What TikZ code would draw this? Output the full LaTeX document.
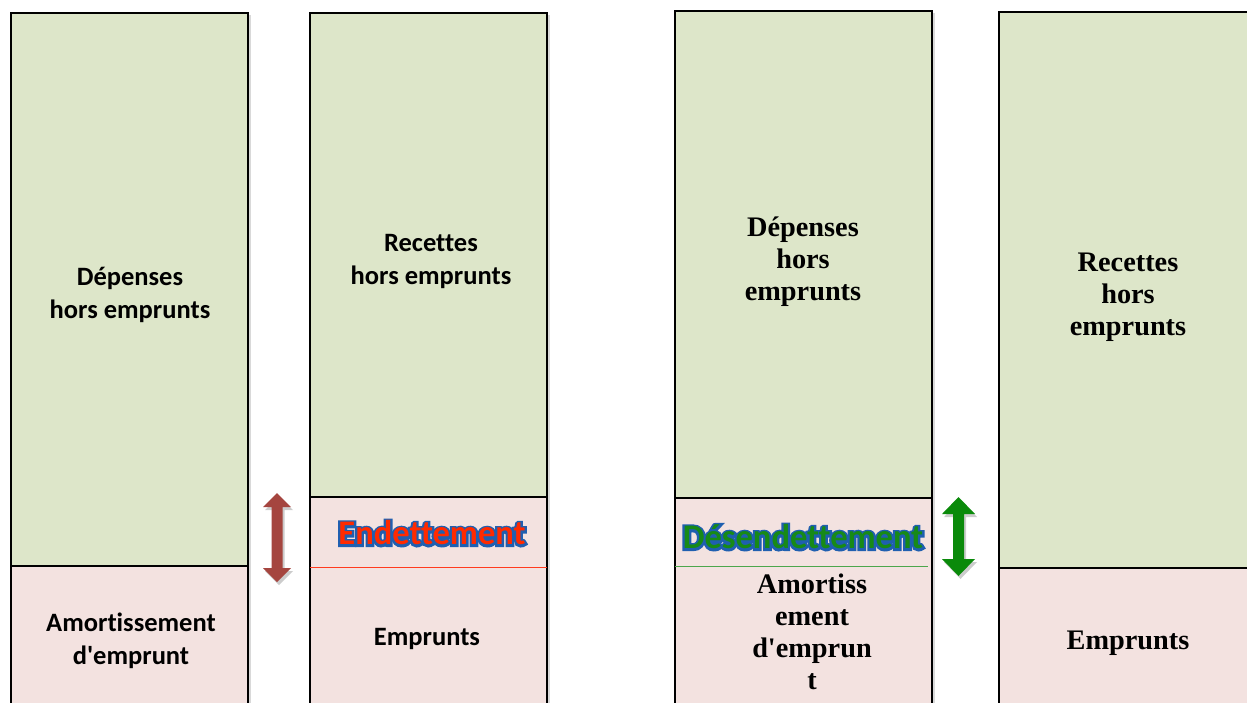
\documentclass[tikz,border=0pt]{standalone}
\usepackage{fontspec}
\setmainfont{Carlito}[Ligatures=NoCommon]
\newfontfamily\serifb{Liberation Serif}[Ligatures=NoCommon]
\definecolor{boxgreen}{HTML}{DDE6C9}
\definecolor{boxpink}{HTML}{F3E2E0}
\definecolor{arrowred}{HTML}{A5453F}
\definecolor{arrowgreen}{HTML}{0A8A0A}
\definecolor{glowblue}{HTML}{1F5FB0}
\definecolor{endred}{HTML}{FF2A00}
\definecolor{desgreen}{HTML}{178A17}
\definecolor{linered}{HTML}{FF3B1F}
\definecolor{linegreen}{HTML}{4CA64C}
\tikzset{
  greenbox/.style={draw=black, line width=1.5pt, fill=boxgreen},
  pinkbox/.style={draw=black, line width=1.5pt, fill=boxpink},
  boxshadow/.style={fill=black, opacity=0.15},
  sanslabel/.style={align=center, font=\bfseries\fontsize{26.5}{33}\selectfont, inner sep=0pt},
  seriflabel/.style={align=center, font=\serifb\bfseries\fontsize{28.3}{32}\selectfont, inner sep=0pt},
  bigword/.style={inner sep=0pt, font=\bfseries\fontsize{34.5}{36}\selectfont},
  glowword/.style={inner sep=0pt, text=glowblue, font=\bfseries\fontsize{34.5}{36}\selectfont\addfontfeature{FakeBold=13}},
}
\begin{document}
\begin{tikzpicture}[x=1pt,y=-1pt]
\useasboundingbox (0,0) rectangle (1247,702);
\clip (0,0) rectangle (1247,702);
% shadows
\fill[boxshadow] (13,15) rectangle (250.5,712);
\fill[boxshadow] (312,15) rectangle (549.5,712);
\fill[boxshadow] (677,13) rectangle (934.5,712);
\fill[boxshadow] (1001,14) rectangle (1260,712);
% column 1
\draw[greenbox] (11,13) rectangle (248,566);
\draw[pinkbox] (11,566) rectangle (248,712);
% column 2
\draw[greenbox] (310,13) rectangle (547,497);
\draw[pinkbox] (310,497) rectangle (547,712);
\draw[linered, line width=1pt] (310,567) -- (547,567);
% column 3
\draw[greenbox] (675,11) rectangle (932,498);
\draw[pinkbox] (675,498) rectangle (932,712);
\draw[linegreen, line width=1pt] (675,566) -- (928,566);
% column 4
\draw[greenbox] (999,12) rectangle (1258,568);
\draw[pinkbox] (999,568) rectangle (1258,712);
% arrows
\fill[black, opacity=0.2] (279,496) -- (293,510) -- (284.5,510) -- (284.5,571) -- (293,571) -- (279,585) -- (265,571) -- (273.5,571) -- (273.5,510) -- (265,510) -- cycle;
\fill[arrowred] (277,493) -- (291,507) -- (282.5,507) -- (282.5,568) -- (291,568) -- (277,582) -- (263,568) -- (271.5,568) -- (271.5,507) -- (263,507) -- cycle;
\fill[black, opacity=0.2] (960.5,500) -- (977,517) -- (966,517) -- (966,562) -- (977,562) -- (960.5,579) -- (944,562) -- (955,562) -- (955,517) -- (944,517) -- cycle;
\fill[arrowgreen] (958.5,497) -- (975,514) -- (964,514) -- (964,559) -- (975,559) -- (958.5,576) -- (942,559) -- (953,559) -- (953,514) -- (942,514) -- cycle;
% labels column 1
\node[sanslabel] (dep1) at (130,295) {Dépenses\\hors emprunts};
\node[sanslabel] (amo1) at (131,641) {Amortissement\\d\textquotesingle emprunt};
% labels column 2
\node[sanslabel] (rec2) at (431,261) {Recettes\\hors emprunts};
\node[sanslabel] (emp2) at (427,639) {Emprunts};
% labels column 3
\node[seriflabel] (dep3) at (803,262) {Dépenses\\hors\\emprunts};
\node[seriflabel] (amo3) at (812,632) {Amortiss\\ement\\d\textquotesingle emprun\\t};
% labels column 4
\node[seriflabel] (rec4) at (1128,297) {Recettes\\hors\\emprunts};
\node[seriflabel] (emp4) at (1128,643) {Emprunts};
% glowing words
\node[glowword] (endglow) at (432,533) {Endettement};
\node[bigword, text=endred] (endt) at (endglow) {Endettement};
\node[glowword] (desglow) at (803,537) {Désendettement};
\node[bigword, text=desgreen] (desendt) at (desglow) {Désendettement};
\end{tikzpicture}
\end{document}
